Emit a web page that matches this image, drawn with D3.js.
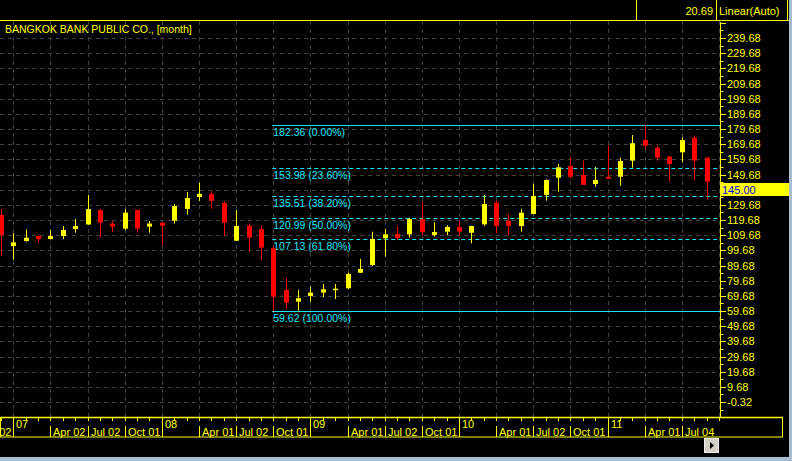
<!DOCTYPE html>
<html>
<head>
<meta charset="utf-8">
<script src="https://cdn.jsdelivr.net/npm/d3@7"></script>
<style>
  html, body { margin: 0; padding: 0; background: #000; }
  svg { display: block; }
  text { font-family: "Liberation Sans", Arial, sans-serif; }
</style>
</head>
<body>
<svg id="chart" width="792" height="461"></svg>
<script>
// ---------------- data ----------------
const months = ["2006-12","2007-01","2007-02","2007-03","2007-04","2007-05","2007-06","2007-07","2007-08","2007-09","2007-10","2007-11","2007-12",
  "2008-01","2008-02","2008-03","2008-04","2008-05","2008-06","2008-07","2008-08","2008-09","2008-10","2008-11","2008-12",
  "2009-01","2009-02","2009-03","2009-04","2009-05","2009-06","2009-07","2009-08","2009-09","2009-10","2009-11","2009-12",
  "2010-01","2010-02","2010-03","2010-04","2010-05","2010-06","2010-07","2010-08","2010-09","2010-10","2010-11","2010-12",
  "2011-01","2011-02","2011-03","2011-04","2011-05","2011-06","2011-07","2011-08","2011-09"];
const openVals  = [123.0,102.5,105.8,109.1,107.1,109.1,113.7,116.7,126.3,117.3,114.0,126.3,115.3,
  117.9,119.2,127.0,134.9,136.9,130.9,106.0,116.0,113.7,101.0,73.5,65.9,
  69.6,71.8,74.0,74.7,84.9,90.0,107.6,110.4,110.2,120.3,109.8,112.0,
  115.1,111.3,116.8,131.1,119.2,115.7,123.6,136.2,147.6,155.3,149.4,143.4,
  148.2,148.2,158.8,172.4,167.3,161.4,164.3,174.0,160.8];
const highVals  = [127.0,110.9,113.3,109.5,113.1,115.7,120.3,136.2,126.6,119.0,127.0,126.5,119.0,
  118.2,130.2,138.1,144.1,138.8,132.2,126.3,117.5,116.0,102.5,81.2,73.5,
  75.7,77.5,77.5,84.9,94.0,112.0,113.7,115.7,121.2,131.8,118.2,116.2,
  119.0,115.9,136.2,132.4,123.6,127.1,143.4,146.5,156.6,160.8,158.8,154.8,
  168.7,160.8,175.7,182.36,168.7,162.1,174.2,175.3,160.8];
const lowVals   = [96.0,93.5,105.4,105.2,107.0,107.1,111.3,116.5,108.0,112.0,113.1,111.3,111.3,
  103.2,117.3,123.2,132.2,127.0,109.3,105.8,98.8,93.3,59.62,61.0,59.8,
  65.8,68.7,67.6,74.0,84.7,89.3,95.5,106.5,108.0,109.3,108.7,109.6,
  109.3,104.3,115.7,110.9,109.8,112.0,123.4,132.4,138.4,147.2,142.8,141.6,
  146.9,142.3,154.2,166.5,158.8,144.9,157.7,146.1,133.3];
const closeVals = [109.8,104.9,108.0,107.1,109.1,113.1,115.7,126.9,117.9,115.3,124.5,114.0,117.3,
  115.9,128.9,134.2,136.9,132.2,117.9,115.7,108.0,101.5,69.1,65.2,68.1,
  71.8,74.0,74.4,84.1,87.4,107.2,110.2,107.8,120.3,111.6,111.8,115.1,
  112.0,115.7,130.2,115.7,115.7,124.5,135.5,146.1,154.4,148.2,142.8,146.1,
  146.9,158.6,170.3,168.7,160.8,156.6,172.4,158.8,145.0];

const yTickLabels = ["-0.32","9.68","19.68","29.68","39.68","49.68","59.68","69.68","79.68","89.68","99.68","109.68",
  "119.68","129.68","139.68","149.68","159.68","169.68","179.68","189.68","199.68","209.68","219.68","229.68","239.68"];

const fibValues = [182.36, 153.98, 135.51, 120.99, 107.13, 59.62];
const fibPercents = ["0.00%","23.60%","38.20%","50.00%","61.80%","100.00%"];

const yearLabels = ["07","08","09","10","11"];
const yearMonths = ["2007-01","2008-01","2009-01","2010-01","2011-01"];
const quarterLabels = ["Oct 02","Apr 02","Jul 02","Oct 01","Apr 01","Jul 02","Oct 01","Apr 01","Jul 02","Oct 01","Apr 01","Jul 02","Oct 01","Apr 01","Jul 04"];
const quarterMonths = ["2006-10","2007-04","2007-07","2007-10","2008-04","2008-07","2008-10","2009-04","2009-07","2009-10","2010-04","2010-07","2010-10","2011-04","2011-07"];

const titleText = "BANGKOK BANK PUBLIC CO., [month]";
const lastPrice = 145.00;
const topValue = "20.69";
const scaleMode = "Linear(Auto)";

// ---------------- helpers ----------------
const monthIndex = m => { const [yy, mo] = m.split("-").map(Number); return (yy - 2007) * 12 + (mo - 1); };

const YELLOW = "#ffff00", RED = "#ff0000", CYAN = "#14e8f8", GRID = "#404040";
const plotRight = 720, plotTop = 21, plotBottom = 417;

const svg = d3.select("#chart");
svg.append("rect").attr("width", 792).attr("height", 461).attr("fill", "#000");

const x = d3.scaleLinear().domain([0, 48]).range([13.3, 607.5]);
const y = d3.scaleLinear().domain([-0.32, 239.68]).range([402, 38]);

const candles = months.map((m, i) => ({ m, i: monthIndex(m), o: openVals[i], h: highVals[i], l: lowVals[i], c: closeVals[i] }));

svg.append("clipPath").attr("id", "plotClip").append("rect")
  .attr("x", 0).attr("y", plotTop).attr("width", plotRight).attr("height", plotBottom - plotTop);
svg.append("clipPath").attr("id", "axisClip").append("rect")
  .attr("x", 0).attr("y", 0).attr("width", 792).attr("height", 461);

const plot = svg.append("g").attr("clip-path", "url(#plotClip)");

// ---------------- grid ----------------
const majorTicks = d3.range(0, 25).map(k => -0.32 + 10 * k);
plot.append("g").selectAll("line").data(majorTicks).join("line")
  .attr("x1", 0).attr("x2", plotRight)
  .attr("y1", d => Math.round(y(d)) + 0.5).attr("y2", d => Math.round(y(d)) + 0.5)
  .attr("stroke", GRID).attr("stroke-dasharray", "4,4");

const quarterIdx = d3.range(-3, 60, 3);
plot.append("g").selectAll("line").data(quarterIdx).join("line")
  .attr("x1", d => Math.round(x(d)) + 0.5).attr("x2", d => Math.round(x(d)) + 0.5)
  .attr("y1", plotTop).attr("y2", plotBottom)
  .attr("stroke", GRID).attr("stroke-dasharray", "4,4");

// ---------------- fib levels ----------------
const fibStart = x(monthIndex("2008-10")) - 1;
const fibG = plot.append("g");
fibG.selectAll("line").data(fibValues).join("line")
  .attr("x1", fibStart).attr("x2", plotRight)
  .attr("y1", d => Math.round(y(d)) + 0.5).attr("y2", d => Math.round(y(d)) + 0.5)
  .attr("stroke", CYAN).attr("stroke-width", 1)
  .attr("stroke-dasharray", (d, i) => (i === 0 || i === fibValues.length - 1) ? null : "4,3");
fibG.selectAll("text").data(fibValues).join("text")
  .attr("x", fibStart + 1).attr("y", d => Math.round(y(d)) + 11)
  .attr("fill", CYAN).attr("font-size", "10.5px")
  .text((d, i) => `${d.toFixed(2)} (${fibPercents[i]})`);

// ---------------- candles ----------------
const cg = plot.append("g");
cg.selectAll("line").data(candles).join("line")
  .attr("x1", d => Math.round(x(d.i)) + 0.5).attr("x2", d => Math.round(x(d.i)) + 0.5)
  .attr("y1", d => y(d.h)).attr("y2", d => y(d.l))
  .attr("stroke", d => d.c >= d.o ? YELLOW : RED).attr("stroke-width", 1);
cg.selectAll("rect").data(candles).join("rect")
  .attr("x", d => Math.round(x(d.i)) - 2).attr("width", 5)
  .attr("y", d => y(Math.max(d.o, d.c)))
  .attr("height", d => Math.max(1.5, Math.abs(y(d.o) - y(d.c))))
  .attr("fill", d => d.c >= d.o ? YELLOW : RED);

// title
svg.append("text").attr("x", 5).attr("y", 33).attr("fill", YELLOW).attr("font-size", "10.5px").text(titleText);

// ---------------- right axis ----------------
const axisG = svg.append("g");
axisG.append("line").attr("x1", plotRight + 0.5).attr("x2", plotRight + 0.5).attr("y1", 22).attr("y2", plotBottom)
  .attr("stroke", YELLOW);
const allTicks = d3.range(0, 54).map(k => -10.32 + 5 * k).filter(v => y(v) >= 22 && y(v) <= plotBottom);
axisG.selectAll("line.t").data(allTicks).join("line").attr("class", "t")
  .attr("x1", plotRight).attr("x2", (d, i) => (Math.round((d + 10.32) / 5) % 2 === 0) ? plotRight + 6 : plotRight + 3.5)
  .attr("y1", d => Math.round(y(d)) + 0.5).attr("y2", d => Math.round(y(d)) + 0.5)
  .attr("stroke", YELLOW);

// last price label box position (labels hidden behind it are skipped)
const lpY = Math.round(y(lastPrice)) + 1;
const lpH = 13;
axisG.selectAll("text").data(yTickLabels.filter(d => {
    const ty = y(+d);
    return !(ty + 4 > lpY && ty - 4 < lpY + lpH);
  })).join("text")
  .attr("x", plotRight + 7).attr("y", d => y(+d) + 4)
  .attr("fill", YELLOW).attr("font-size", "11px").text(d => d);

axisG.append("rect").attr("x", plotRight).attr("y", lpY).attr("width", 72).attr("height", lpH).attr("fill", YELLOW);
axisG.append("text").attr("x", plotRight + 2).attr("y", lpY + 10.5).attr("fill", "#0000ff").attr("font-size", "11px")
  .text(lastPrice.toFixed(2));

// ---------------- top bar ----------------
const topBar = svg.append("g");
topBar.append("line").attr("x1", 0).attr("x2", 789).attr("y1", 20.5).attr("y2", 20.5).attr("stroke", YELLOW);
topBar.append("line").attr("x1", 636.5).attr("x2", 636.5).attr("y1", 0).attr("y2", 20).attr("stroke", YELLOW);
topBar.append("line").attr("x1", 716.5).attr("x2", 716.5).attr("y1", 0).attr("y2", 20).attr("stroke", YELLOW);
topBar.append("line").attr("x1", 787.5).attr("x2", 787.5).attr("y1", 0).attr("y2", 20).attr("stroke", YELLOW);
topBar.append("text").attr("x", 713).attr("y", 15).attr("text-anchor", "end").attr("fill", YELLOW).attr("font-size", "11px").text(topValue);
topBar.append("text").attr("x", 719).attr("y", 15).attr("fill", YELLOW).attr("font-size", "11px").text(scaleMode);

// ---------------- bottom axis ----------------
const xa = svg.append("g");
xa.append("rect").attr("x", 0.5).attr("y", 417.5).attr("width", 782).attr("height", 19.5)
  .attr("fill", "none").attr("stroke", YELLOW);
xa.append("line").attr("x1", 0).attr("x2", 783).attr("y1", 417.5).attr("y2", 417.5).attr("stroke", YELLOW).attr("stroke-width", 1.5);
const monthTicks = d3.range(-12, 60).filter(i => x(i) > 0 && x(i) < 720);
xa.selectAll("line.mt").data(monthTicks).join("line").attr("class", "mt")
  .attr("x1", d => Math.round(x(d)) + 0.5).attr("x2", d => Math.round(x(d)) + 0.5)
  .attr("y1", 418).attr("y2", 421).attr("stroke", YELLOW);
xa.selectAll("line.yr").data(yearMonths).join("line").attr("class", "yr")
  .attr("x1", d => Math.round(x(monthIndex(d))) + 0.5).attr("x2", d => Math.round(x(monthIndex(d))) + 0.5)
  .attr("y1", 418).attr("y2", 437).attr("stroke", YELLOW);
xa.selectAll("text.yr").data(yearLabels).join("text").attr("class", "yr")
  .attr("x", (d, i) => Math.round(x(monthIndex(yearMonths[i]))) + 3).attr("y", 428)
  .attr("fill", YELLOW).attr("font-size", "11px").text(d => d);
xa.selectAll("line.q").data(quarterMonths).join("line").attr("class", "q")
  .attr("x1", d => Math.round(x(monthIndex(d))) + 0.5).attr("x2", d => Math.round(x(monthIndex(d))) + 0.5)
  .attr("y1", 426).attr("y2", 437).attr("stroke", YELLOW);
xa.selectAll("text.q").data(quarterLabels).join("text").attr("class", "q")
  .attr("x", (d, i) => Math.round(x(monthIndex(quarterMonths[i]))) + 3).attr("y", 435.5)
  .attr("fill", YELLOW).attr("font-size", "11px").text(d => d);

// scroll button
const btn = svg.append("g");
btn.append("rect").attr("x", 704.5).attr("y", 438.5).attr("width", 14).attr("height", 14)
  .attr("fill", "#d4d0c8").attr("stroke", "#f0f0f0");
btn.append("path").attr("d", "M710,442 L714,445.5 L710,449 Z").attr("fill", "#000");

// window frame
svg.append("rect").attr("x", 0).attr("y", 457).attr("width", 792).attr("height", 4).attr("fill", "#a9bdd2");
svg.append("rect").attr("x", 789).attr("y", 0).attr("width", 3).attr("height", 461).attr("fill", "#a9bdd2");
</script>
</body>
</html>
